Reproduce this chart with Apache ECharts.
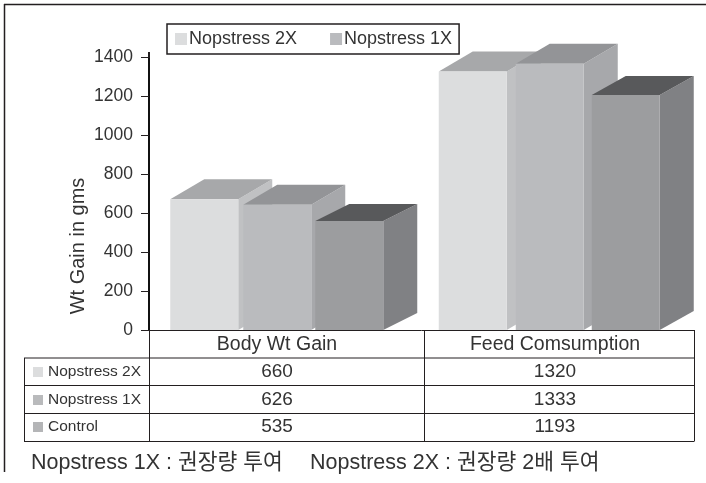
<!DOCTYPE html>
<html>
<head>
<meta charset="utf-8">
<style>
html, body { margin: 0; padding: 0; background: #fff; }
#chart { width: 706px; height: 483px; }
</style>
<script src="https://cdn.jsdelivr.net/npm/echarts@6/dist/echarts.min.js"></script>
</head>
<body>
<div id="chart"></div>
<script>
var categories = ['Body Wt Gain', 'Feed Comsumption'];
var yTicks = [0, 200, 400, 600, 800, 1000, 1200, 1400];

// heights as drawn against the axis (the bars do not quite agree with the table)
var nopstress2x = [670, 1326];
var nopstress1x = [642, 1365];
var control = [559, 1205];

// values printed in the table under the chart
var tableRows = ['Nopstress 2X', 'Nopstress 1X', 'Control'];
var tableBody = [660, 626, 535];
var tableFeed = [1320, 1333, 1193];
var footNote1 = 'Nopstress 1X : 권장량 투여';
var footNote2 = 'Nopstress 2X : 권장량 2배 투여';

var FONT = '"Liberation Sans", Arial, sans-serif';
var KFONT = '"Liberation Sans", "Noto Sans CJK KR", sans-serif';
var TEXT = '#333333';
var LINE = '#231f20';

// bar left edge relative to band centre, per category
var barOffset = [[-115, -42, 30], [-119, -42, 34]];
var barW = 68;
var depthX = 34;
var depthY = [[20, 20, 17], [20, 20, 19]];

var faces = [
    { front: '#dcddde', top: '#a7a8aa', side: '#c0c1c3' },
    { front: '#babbbe', top: '#939497', side: '#a7a8ab' },
    { front: '#9c9d9f', top: '#58595b', side: '#808184' }
];

function box3d(idx) {
    return function (params, api) {
        var cat = api.value(0);
        var base = api.coord([cat, 0]);
        var top = api.coord([cat, api.value(1)]);
        var x = base[0] + barOffset[cat][idx];
        var y0 = base[1];
        var y1 = top[1];
        var dy = depthY[cat][idx];
        var f = faces[idx];
        return {
            type: 'group',
            children: [{
                type: 'polygon',
                shape: { points: [[x + barW, y1], [x + barW + depthX, y1 - dy], [x + barW + depthX, y0 - dy], [x + barW, y0]] },
                style: { fill: f.side }
            }, {
                type: 'polygon',
                shape: { points: [[x, y1], [x + depthX, y1 - dy], [x + barW + depthX, y1 - dy], [x + barW, y1]] },
                style: { fill: f.top }
            }, {
                type: 'rect',
                shape: { x: x, y: y1, width: barW, height: y0 - y1 },
                style: { fill: f.front }
            }]
        };
    };
}

function toData(arr) {
    return arr.map(function (v, i) { return [i, v]; });
}

function hline(x1, x2, y, w) {
    return { type: 'line', shape: { x1: x1, y1: y, x2: x2, y2: y }, style: { stroke: LINE, lineWidth: w || 1 }, z: 10 };
}
function vline(x, y1, y2, w) {
    return { type: 'line', shape: { x1: x, y1: y1, x2: x, y2: y2 }, style: { stroke: LINE, lineWidth: w || 1 }, z: 10 };
}
function label(str, x, y, size, align, font) {
    return {
        type: 'text', x: x, y: y, z: 11,
        style: { text: str, fill: TEXT, font: size + 'px ' + (font || FONT), textAlign: align || 'center', textVerticalAlign: 'middle' }
    };
}

var rowLines = [358, 385.5, 413.5, 441.5];
var rowMid = [372, 400, 427];
var rowMark = ['#dcddde', '#b9babc', '#b4b5b7'];
var colMid = [277, 555];

var yName = label('Wt Gain in gms', 78, 246, 20);
yName.rotation = Math.PI / 2;

var g = [
    // frame, only top and left are drawn in the original
    hline(4, 706, 4.5, 1.5),
    vline(4.5, 4, 472, 1.5),
    // axis line runs a bit past the top tick
    vline(149, 52, 58, 2),
    hline(149, 694, 330.5),
    vline(149.5, 330, 441.5),
    vline(424.5, 330, 441.5),
    vline(694.5, 330, 441.5),
    vline(24.5, 358, 441.5),
    yName,
    label(categories[0], colMid[0], 345, 19.5),
    label(categories[1], colMid[1], 345, 19.5),
    label(footNote1, 31, 463, 21.5, 'left', KFONT),
    label(footNote2, 310, 463, 21.5, 'left', KFONT)
];
rowLines.forEach(function (y) { g.push(hline(24, 694, y)); });
tableRows.forEach(function (name, i) {
    g.push({ type: 'rect', z: 11, shape: { x: 33, y: rowMid[i] - 5, width: 10, height: 10 }, style: { fill: rowMark[i] } });
    g.push(label(name, 48, rowMid[i], 15.5, 'left'));
    g.push(label(String(tableBody[i]), colMid[0], rowMid[i], 19));
    g.push(label(String(tableFeed[i]), colMid[1], rowMid[i], 19));
});

var chart = echarts.init(document.getElementById('chart'));
chart.setOption({
    animation: false,
    backgroundColor: '#fff',
    grid: { left: 149, right: 12, top: 57, bottom: 153 },
    legend: {
        data: [{ name: 'Nopstress 2X', icon: 'rect' }, { name: 'Nopstress 1X', icon: 'rect' }],
        left: 167,
        top: 24,
        padding: [6, 7, 6, 8],
        itemWidth: 12,
        itemHeight: 12,
        itemGap: 33,
        borderColor: LINE,
        borderWidth: 1.5,
        textStyle: { fontFamily: FONT, fontSize: 18, color: TEXT, padding: [0, 0, 0, -3] }
    },
    xAxis: {
        type: 'category',
        data: categories,
        axisLine: { show: false },
        axisTick: { show: false },
        axisLabel: { show: false }
    },
    yAxis: {
        type: 'value',
        min: 0,
        max: 1400,
        interval: 200,
        splitLine: { show: false },
        axisLine: { show: true, lineStyle: { color: '#111', width: 2 } },
        axisTick: { show: true, length: 8, lineStyle: { color: LINE, width: 1 } },
        axisLabel: {
            margin: 16,
            padding: [2, 0, 0, 0],
            fontFamily: FONT,
            fontSize: 17.5,
            color: TEXT,
            formatter: function (v) { return yTicks.indexOf(v) >= 0 ? String(v) : ''; }
        }
    },
    series: [
        { name: 'Nopstress 2X', type: 'custom', renderItem: box3d(0), data: toData(nopstress2x), itemStyle: { color: '#dcddde' }, z: 2 },
        { name: 'Nopstress 1X', type: 'custom', renderItem: box3d(1), data: toData(nopstress1x), itemStyle: { color: '#babbbe' }, z: 3 },
        { name: 'Control', type: 'custom', renderItem: box3d(2), data: toData(control), itemStyle: { color: '#9c9d9f' }, z: 4 }
    ],
    graphic: g
});
</script>
</body>
</html>
